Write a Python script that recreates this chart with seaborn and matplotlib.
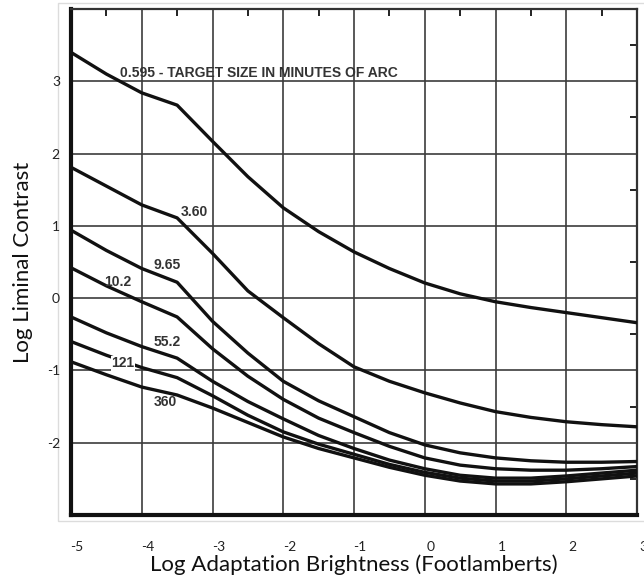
import matplotlib
matplotlib.use("Agg")
import matplotlib.pyplot as plt
import matplotlib.transforms as mtransforms
from matplotlib.patches import Rectangle
from matplotlib.ticker import MultipleLocator
import numpy as np
import pandas as pd
import seaborn as sns

# ---------------- data ----------------
log_brightness = [-5, -4.5, -4, -3.5, -3, -2.5, -2, -1.5, -1, -0.5, 0, 0.5, 1, 1.5, 2, 2.5, 3]

c_0595 = [3.40, 3.10, 2.84, 2.67, 2.17, 1.68, 1.25, 0.92, 0.64, 0.41, 0.21, 0.06, -0.05, -0.13, -0.20, -0.27, -0.34]
c_360a = [1.81, 1.55, 1.29, 1.11, 0.62, 0.10, -0.27, -0.63, -0.95, -1.15, -1.31, -1.45, -1.57, -1.65, -1.71, -1.75, -1.78]
c_965 = [0.94, 0.66, 0.41, 0.22, -0.32, -0.76, -1.15, -1.42, -1.64, -1.86, -2.03, -2.14, -2.21, -2.25, -2.27, -2.27, -2.26]
c_102 = [0.42, 0.17, -0.05, -0.26, -0.70, -1.08, -1.40, -1.66, -1.86, -2.05, -2.21, -2.31, -2.36, -2.38, -2.38, -2.36, -2.33]
c_552 = [-0.26, -0.48, -0.67, -0.83, -1.15, -1.43, -1.67, -1.90, -2.08, -2.24, -2.36, -2.45, -2.49, -2.49, -2.46, -2.42, -2.38]
c_121 = [-0.60, -0.79, -0.96, -1.10, -1.35, -1.62, -1.85, -2.02, -2.16, -2.30, -2.41, -2.49, -2.53, -2.53, -2.50, -2.46, -2.42]
c_360 = [-0.88, -1.06, -1.23, -1.34, -1.52, -1.72, -1.92, -2.08, -2.21, -2.34, -2.45, -2.53, -2.57, -2.57, -2.54, -2.50, -2.46]

target_sizes = ["0.595", "3.60", "9.65", "10.2", "55.2", "121", "360"]
series_values = [c_0595, c_360a, c_965, c_102, c_552, c_121, c_360]

curve_label_texts = ["0.595 - TARGET SIZE IN MINUTES OF ARC", "3.60", "9.65", "10.2", "55.2", "121", "360"]

x_ticks = [-5, -4, -3, -2, -1, 0, 1, 2, 3]
x_tick_labels = ["-5", "-4", "-3", "-2", "-1", "0", "1", "2", "3"]
y_ticks = [-3, -2, -1, 0, 1, 2, 3, 4]
y_tick_labels = ["", "-2", "-1", "0", "1", "2", "3", ""]

x_label = "Log Adaptation Brightness (Footlamberts)"
y_label = "Log Liminal Contrast"

# ---------------- long-form table ----------------
rows = []
for name, vals in zip(target_sizes, series_values):
    for xv, yv in zip(log_brightness, vals):
        rows.append({"brightness": xv, "contrast": yv, "size": name})
df = pd.DataFrame(rows)

# ---------------- figure ----------------
sns.set_style("white")
plt.rcParams["font.family"] = ["Lato", "DejaVu Sans"]

W, H = 644, 582
fig = plt.figure(figsize=(W / 100, H / 100), dpi=100)
fig.patch.set_facecolor("white")

# faint scan border
fig.add_artist(Rectangle((58 / W, 1 - 521 / H), 1.0, (521 - 3) / H,
                         transform=fig.transFigure, fill=False,
                         edgecolor="#dcdcdc", linewidth=1.0, zorder=0))

ax = fig.add_axes([71 / W, 1 - 515 / H, (637 - 71) / W, (515 - 9) / H])
ax.set_facecolor("white")

sns.lineplot(data=df, x="brightness", y="contrast", hue="size",
             hue_order=target_sizes, palette=["#111111"] * len(target_sizes),
             sort=False, estimator=None, legend=False, linewidth=2.4, ax=ax,
             zorder=3)

ax.set_xlim(-5, 3)
ax.set_ylim(-3, 4)
ax.set_xticks(x_ticks)
ax.set_xticklabels(x_tick_labels)
ax.set_yticks(y_ticks)
ax.set_yticklabels(y_tick_labels)
ax.xaxis.set_minor_locator(MultipleLocator(0.5))
ax.yaxis.set_minor_locator(MultipleLocator(0.5))

ax.grid(True, which="major", color="#3c3c3c", linewidth=1.2, zorder=1)
ax.set_axisbelow(True)

ax.tick_params(axis="both", which="major", length=0, labelsize=10,
               labelcolor="#222222")
ax.tick_params(axis="x", which="major", pad=19)
ax.tick_params(axis="y", which="major", pad=8)
ax.tick_params(axis="both", which="minor", direction="in", length=5,
               width=1.4, color="#222222", top=True, right=True)

for lab in ax.get_xticklabels():
    lab.set_transform(lab.get_transform() +
                      mtransforms.ScaledTranslation(6 / 100, 0, fig.dpi_scale_trans))

for side in ["left", "bottom"]:
    ax.spines[side].set_linewidth(3.0)
    ax.spines[side].set_color("#111111")
for side in ["top", "right"]:
    ax.spines[side].set_linewidth(1.6)
    ax.spines[side].set_color("#333333")

ax.set_xlabel(x_label, fontsize=16, color="#111111", labelpad=1)
ax.set_ylabel(y_label, fontsize=16, color="#111111", labelpad=10)

# curve labels
label_pos = [(-4.31, 3.11, "left"), (-3.25, 1.19, "center"), (-3.64, 0.46, "center"),
             (-4.34, 0.22, "center"), (-3.64, -0.60, "center"), (-4.27, -0.90, "center"),
             (-3.67, -1.43, "center")]
for txt, (lx, ly, ha) in zip(curve_label_texts, label_pos):
    kw = {}
    if txt == "121":
        kw["bbox"] = dict(facecolor="white", edgecolor="none", pad=0.3)
    ax.text(lx, ly, txt, ha=ha, va="center", fontsize=10, fontweight="bold",
            family=["Liberation Sans", "DejaVu Sans"], color="#333333", zorder=4, **kw)

fig.savefig("out.png", dpi=100, facecolor="white")
